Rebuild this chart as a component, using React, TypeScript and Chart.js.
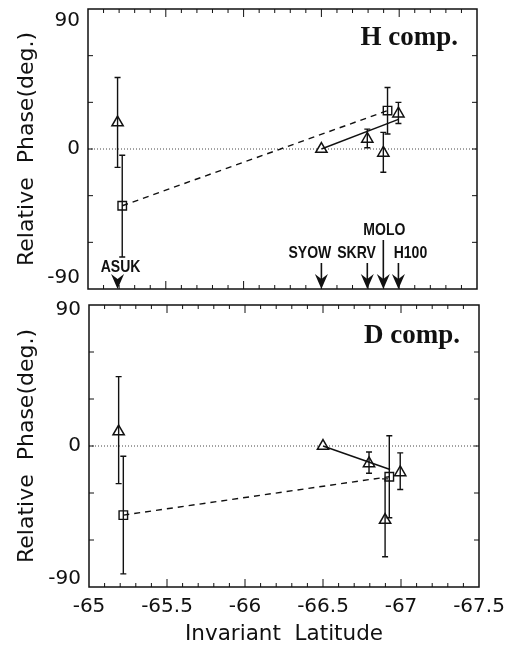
import React, { useEffect, useRef } from "react";
import { Chart, registerables } from "chart.js";
Chart.register(...registerables);

// ---------- data ----------
const stationNames = ["ASUK", "SYOW", "SKRV", "MOLO", "H100"];
const stationLat = [-65.19, -66.5, -66.795, -66.898, -66.995];
const squareLat = [-65.22, -66.925];

// H component
const hTriPhase = [17, 0, 6.5, -2.5, 22.7];
const hTriHi = [46, null, 12.8, 10.7, 30];
const hTriLo = [-11.8, null, 0.8, -14.9, 16.4];
const hSqPhase = [-36.5, 24.7];
const hSqHi = [-4, 39.5];
const hSqLo = [-69.4, 9.6];
const hFitLat = [-66.5, -66.995];
const hFitPhase = [0, 19];

// D component
const dTriPhase = [9.2, 0, -11.1, -47.3, -16.9];
const dTriHi = [44.3, null, -3.8, -21, -4.4];
const dTriLo = [-24, null, -17.4, -70.7, -27.8];
const dSqPhase = [-44.1, -19.6];
const dSqHi = [-6.5, 6.5];
const dSqLo = [-81.6, -45.8];
const dFitLat = [-66.5, -66.93];
const dFitPhase = [0, -15];

// ticks
const xTickValues = [-65, -65.5, -66, -66.5, -67, -67.5];
const xTickLabels = ["-65", "-65.5", "-66", "-66.5", "-67", "-67.5"];
const yTickValues = [90, 0, -90];
const yTickLabels = ["90", "0", "-90"];
const yMinorStep = 30;
const xMinorStep = 0.1;

// ---------- styling / layout ----------
const SANS = '"DejaVu Sans", sans-serif';
const BOLDSANS = '"Liberation Sans", "DejaVu Sans", sans-serif';
const SERIF = '"Liberation Serif", "Times New Roman", serif';
const INK = "#111";

// station label layout: [label dx, label baseline above axis, shaft top above axis]
const stationLayout = [
  [3, 17, 0],
  [-11.5, 31, 26],
  [-10.7, 31, 26],
  [1, 54, 49],
  [12, 31, 26],
];

const pts = (xs: number[], ys: number[]) => xs.map((x, i) => ({ x, y: ys[i] }));

function makePlugin(opts: any) {
  return {
    id: "paperDecor",
    beforeDatasetsDraw(chart: any) {
      const { ctx, chartArea: a, scales } = chart;
      const y0 = scales.y.getPixelForValue(0);
      ctx.save();
      ctx.strokeStyle = "#444";
      ctx.lineWidth = 1;
      ctx.setLineDash([1, 2]);
      ctx.beginPath();
      ctx.moveTo(a.left, y0);
      ctx.lineTo(a.right, y0);
      ctx.stroke();
      ctx.restore();
    },
    afterDatasetsDraw(chart: any) {
      const { ctx, chartArea: a, scales } = chart;
      const xs = scales.x, ys = scales.y;
      ctx.save();
      ctx.strokeStyle = INK;
      ctx.fillStyle = INK;
      // error bars
      chart.data.datasets.forEach((ds: any) => {
        if (!ds.errHi) return;
        ds.data.forEach((p: any, i: number) => {
          const hi = ds.errHi[i], lo = ds.errLo[i];
          if (hi == null || lo == null) return;
          const px = xs.getPixelForValue(p.x);
          const py1 = ys.getPixelForValue(hi);
          const py2 = ys.getPixelForValue(lo);
          ctx.lineWidth = 1.4;
          ctx.beginPath();
          ctx.moveTo(px, py1);
          ctx.lineTo(px, py2);
          ctx.moveTo(px - 3, py1);
          ctx.lineTo(px + 3, py1);
          ctx.moveTo(px - 3, py2);
          ctx.lineTo(px + 3, py2);
          ctx.stroke();
        });
      });
      // frame
      ctx.lineWidth = 1.5;
      ctx.strokeRect(a.left, a.top, a.right - a.left, a.bottom - a.top);
      // y ticks (inward, both sides)
      ctx.lineWidth = 1;
      ctx.beginPath();
      for (let v = -90 + yMinorStep; v < 90; v += yMinorStep) {
        const py = ys.getPixelForValue(v);
        ctx.moveTo(a.left, py);
        ctx.lineTo(a.left + 5, py);
        ctx.moveTo(a.right, py);
        ctx.lineTo(a.right - 5, py);
      }
      // x ticks (inward, top and bottom)
      const nMinor = Math.round(2.5 / xMinorStep);
      for (let k = 1; k < nMinor; k++) {
        const v = -65 - k * xMinorStep;
        const major = k % 5 === 0;
        const len = major ? 8 : 4;
        const px = xs.getPixelForValue(v);
        ctx.moveTo(px, a.bottom);
        ctx.lineTo(px, a.bottom - len);
        ctx.moveTo(px, a.top);
        ctx.lineTo(px, a.top + len);
      }
      ctx.stroke();
      // y tick labels
      ctx.font = `20px ${SANS}`;
      ctx.textAlign = "right";
      ctx.textBaseline = "middle";
      yTickValues.forEach((v, i) => {
        let py = ys.getPixelForValue(v);
        if (v === 90) py += opts.topLabelShift;
        if (v === -90) py -= opts.bottomLabelShift;
        ctx.fillText(yTickLabels[i], a.left - 8, py);
      });
      // y title
      ctx.save();
      ctx.font = `22px ${SANS}`;
      ctx.textAlign = "center";
      ctx.textBaseline = "alphabetic";
      ctx.translate(32.5, (a.top + a.bottom) / 2);
      ctx.rotate(-Math.PI / 2);
      ctx.fillText("Relative  Phase(deg.)", 0, 0);
      ctx.restore();
      // component label
      ctx.font = `bold 27px ${SERIF}`;
      ctx.textAlign = "right";
      ctx.textBaseline = "alphabetic";
      ctx.fillText(opts.compLabel, a.right - 19, a.top + opts.compBaseline);
      // x tick labels + title
      if (opts.showX) {
        ctx.font = `20px ${SANS}`;
        ctx.textAlign = "center";
        ctx.textBaseline = "alphabetic";
        xTickValues.forEach((v, i) => {
          ctx.fillText(xTickLabels[i], xs.getPixelForValue(v), a.bottom + 25);
        });
        ctx.font = `21.5px ${SANS}`;
        ctx.fillText("Invariant  Latitude", (a.left + a.right) / 2, a.bottom + 53);
      }
      // station arrows
      if (opts.showStations) {
        stationNames.forEach((name, i) => {
          const [dx, lb, st] = stationLayout[i];
          const px = xs.getPixelForValue(stationLat[i]);
          const b = a.bottom;
          ctx.save();
          ctx.font = `bold 16.5px ${BOLDSANS}`;
          ctx.textAlign = "center";
          ctx.textBaseline = "alphabetic";
          ctx.translate(px + dx, b - lb);
          ctx.scale(0.85, 1);
          ctx.fillText(name, 0, 0);
          ctx.restore();
          if (st > 0) {
            ctx.lineWidth = 1.6;
            ctx.beginPath();
            ctx.moveTo(px, b - st);
            ctx.lineTo(px, b - 8);
            ctx.stroke();
          }
          ctx.beginPath();
          ctx.moveTo(px, b);
          ctx.lineTo(px - 6.5, b - 15);
          ctx.lineTo(px, b - 10);
          ctx.lineTo(px + 6.5, b - 15);
          ctx.closePath();
          ctx.fill();
        });
      }
      ctx.restore();
    },
  };
}

function makeConfig(p: any): any {
  return {
    type: "scatter",
    data: {
      datasets: [
        {
          label: "fit",
          data: pts(p.fitLat, p.fitPhase),
          showLine: true,
          borderColor: INK,
          borderWidth: 1.4,
          pointRadius: 0,
        },
        {
          label: "connect",
          data: pts(squareLat, p.sqPhase),
          showLine: true,
          borderColor: INK,
          borderWidth: 1.4,
          borderDash: [6, 5],
          pointRadius: 0,
        },
        {
          label: "triangles",
          data: pts(stationLat, p.triPhase),
          errHi: p.triHi,
          errLo: p.triLo,
          pointStyle: "triangle",
          pointRadius: 6.5,
          pointBorderWidth: 1.5,
          borderColor: INK,
          backgroundColor: "#fff",
        },
        {
          label: "squares",
          data: pts(squareLat, p.sqPhase),
          errHi: p.sqHi,
          errLo: p.sqLo,
          pointStyle: "rect",
          pointRadius: 6,
          pointBorderWidth: 1.4,
          borderColor: INK,
          backgroundColor: "#fff",
        },
      ],
    },
    options: {
      responsive: false,
      maintainAspectRatio: false,
      animation: false,
      devicePixelRatio: 1,
      layout: { padding: p.padding },
      scales: {
        x: { type: "linear", min: -67.5, max: -65, reverse: true, display: false },
        y: { type: "linear", min: -90, max: 90, display: false },
      },
      plugins: { legend: { display: false }, tooltip: { enabled: false } },
    },
    plugins: [makePlugin(p)],
  };
}

const panels = [
  {
    key: "H",
    top: 0,
    height: 297,
    padding: { left: 88, right: 33, top: 9, bottom: 3 },
    compLabel: "H comp.",
    compBaseline: 36,
    topLabelShift: 12,
    bottomLabelShift: 11,
    showX: false,
    showStations: true,
    triPhase: hTriPhase,
    triHi: hTriHi,
    triLo: hTriLo,
    sqPhase: hSqPhase,
    sqHi: hSqHi,
    sqLo: hSqLo,
    fitLat: hFitLat,
    fitPhase: hFitPhase,
  },
  {
    key: "D",
    top: 297,
    height: 349,
    padding: { left: 89, right: 31, top: 3, bottom: 59 },
    compLabel: "D comp.",
    compBaseline: 38,
    topLabelShift: 5,
    bottomLabelShift: 8,
    showX: true,
    showStations: false,
    triPhase: dTriPhase,
    triHi: dTriHi,
    triLo: dTriLo,
    sqPhase: dSqPhase,
    sqHi: dSqHi,
    sqLo: dSqLo,
    fitLat: dFitLat,
    fitPhase: dFitPhase,
  },
];

function PanelChart({ p }: { p: any }) {
  const ref = useRef<HTMLCanvasElement | null>(null);
  useEffect(() => {
    if (!ref.current) return;
    const chart = new Chart(ref.current, makeConfig(p));
    return () => chart.destroy();
  }, [p]);
  return (
    <canvas
      ref={ref}
      width={510}
      height={p.height}
      style={{ position: "absolute", left: 0, top: p.top, width: 510, height: p.height }}
    />
  );
}

export default function App() {
  return (
    <div style={{ position: "fixed", left: 0, top: 0, width: 510, height: 646, background: "#fff" }}>
      {panels.map((p) => (
        <PanelChart key={p.key} p={p} />
      ))}
    </div>
  );
}
